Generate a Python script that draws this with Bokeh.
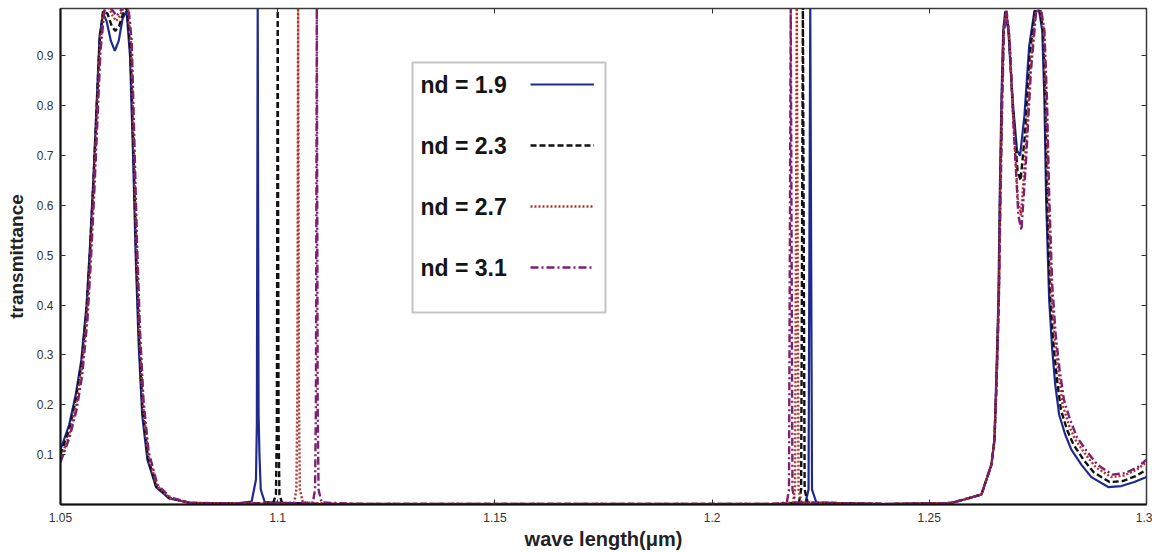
from bokeh.plotting import figure
from bokeh.models import (Range1d, LinearAxis, FixedTicker, Legend, LegendItem,
                          Label, BoxAnnotation)
from bokeh.core.properties import value
from bokeh.embed import file_html
from bokeh.resources import INLINE

# ---------------- data ----------------
x_ticks = [1.05, 1.1, 1.15, 1.2, 1.25, 1.3]
x_tick_labels = ["1.05", "1.1", "1.15", "1.2", "1.25", "1.3"]
y_ticks = [0.1, 0.2, 0.3, 0.4, 0.5, 0.6, 0.7, 0.8, 0.9]
y_tick_labels = ["0.1", "0.2", "0.3", "0.4", "0.5", "0.6", "0.7", "0.8", "0.9"]

series_names = ["nd = 1.9", "nd = 2.3", "nd = 2.7", "nd = 3.1"]

x_19 = [1.0500, 1.0520, 1.0535, 1.0548, 1.0560, 1.0568, 1.0576, 1.0583, 1.0590, 1.0598,
        1.0606, 1.0616, 1.0625, 1.0634, 1.0643, 1.0652, 1.0660, 1.0667, 1.0673, 1.0680,
        1.0688, 1.0700, 1.0720, 1.0750, 1.0800, 1.0900, 1.0940, 1.0950, 1.0952, 1.0954,
        1.0956, 1.0958, 1.0961, 1.0970, 1.1100, 1.2150, 1.2215, 1.2222, 1.2226, 1.2230,
        1.2240, 1.2400, 1.2550, 1.2580, 1.2620, 1.2643, 1.2650, 1.2654, 1.2659, 1.2662,
        1.2666, 1.2670, 1.2675, 1.2682, 1.2691, 1.2702, 1.2709, 1.2719, 1.2730, 1.2742,
        1.2753, 1.2760, 1.2765, 1.2769, 1.2776, 1.2783, 1.2790, 1.2799, 1.2813, 1.2827,
        1.2850, 1.2873, 1.2912, 1.2942, 1.2972, 1.3000]
y_19 = [0.11, 0.16, 0.22, 0.29, 0.40, 0.52, 0.66, 0.80, 0.94, 0.985,
        0.97, 0.93, 0.91, 0.93, 0.975, 0.99, 0.90, 0.70, 0.50, 0.32,
        0.18, 0.09, 0.035, 0.012, 0.003, 0.002, 0.006, 0.05, 0.16, 1.0,
        0.18, 0.10, 0.03, 0.005, 0.001, 0.001, 0.004, 0.03, 1.0, 0.03,
        0.004, 0.001, 0.003, 0.01, 0.02, 0.08, 0.13, 0.25, 0.41, 0.61,
        0.81, 0.95, 0.99, 0.95, 0.82, 0.71, 0.70, 0.78, 0.92, 0.99,
        0.99, 0.95, 0.81, 0.61, 0.41, 0.31, 0.24, 0.18, 0.14, 0.11,
        0.08, 0.055, 0.035, 0.037, 0.045, 0.055]

x_23 = [1.0500, 1.0520, 1.0535, 1.0548, 1.0560, 1.0568, 1.0576, 1.0583, 1.0590, 1.0598,
        1.0608, 1.0618, 1.0626, 1.0635, 1.0644, 1.0653, 1.0661, 1.0668, 1.0674, 1.0681,
        1.0689, 1.0701, 1.0720, 1.0750, 1.0800, 1.0950, 1.0990, 1.0996, 1.0998, 1.1000,
        1.1002, 1.1004, 1.1010, 1.1100, 1.2150, 1.2200, 1.2205, 1.2209, 1.2213, 1.2220,
        1.2400, 1.2550, 1.2580, 1.2620, 1.2643, 1.2650, 1.2655, 1.2660, 1.2663, 1.2667,
        1.2671, 1.2676, 1.2683, 1.2692, 1.2703, 1.2710, 1.2720, 1.2731, 1.2743, 1.2755,
        1.2762, 1.2767, 1.2771, 1.2778, 1.2786, 1.2794, 1.2803, 1.2817, 1.2832, 1.2855,
        1.2878, 1.2915, 1.2945, 1.2975, 1.3000]
y_23 = [0.10, 0.15, 0.21, 0.28, 0.39, 0.51, 0.65, 0.79, 0.93, 0.99,
        0.985, 0.96, 0.95, 0.96, 0.985, 0.995, 0.91, 0.71, 0.51, 0.33,
        0.19, 0.095, 0.037, 0.013, 0.003, 0.002, 0.004, 0.02, 0.15, 1.0,
        0.15, 0.02, 0.003, 0.001, 0.001, 0.004, 0.03, 1.0, 0.03, 0.004,
        0.001, 0.003, 0.01, 0.02, 0.08, 0.13, 0.25, 0.41, 0.61, 0.81,
        0.95, 0.99, 0.95, 0.80, 0.67, 0.65, 0.74, 0.90, 0.99, 0.99,
        0.95, 0.81, 0.61, 0.42, 0.32, 0.25, 0.19, 0.15, 0.12, 0.09,
        0.065, 0.045, 0.047, 0.057, 0.07]

x_27 = [1.0500, 1.0520, 1.0536, 1.0549, 1.0561, 1.0569, 1.0577, 1.0584, 1.0591, 1.0600,
        1.0610, 1.0620, 1.0628, 1.0637, 1.0646, 1.0655, 1.0663, 1.0669, 1.0675, 1.0682,
        1.0690, 1.0702, 1.0722, 1.0752, 1.0800, 1.1000, 1.1038, 1.1043, 1.1045, 1.1047,
        1.1049, 1.1051, 1.1058, 1.1150, 1.2150, 1.2186, 1.2191, 1.2195, 1.2199, 1.2206,
        1.2400, 1.2550, 1.2580, 1.2620, 1.2643, 1.2650, 1.2655, 1.2660, 1.2663, 1.2667,
        1.2671, 1.2677, 1.2684, 1.2693, 1.2704, 1.2711, 1.2721, 1.2733, 1.2745, 1.2757,
        1.2764, 1.2769, 1.2774, 1.2781, 1.2789, 1.2798, 1.2807, 1.2821, 1.2836, 1.2860,
        1.2883, 1.2918, 1.2948, 1.2978, 1.3000]
y_27 = [0.09, 0.14, 0.20, 0.27, 0.38, 0.50, 0.64, 0.78, 0.92, 0.99,
        1.0, 0.98, 0.97, 0.98, 1.0, 1.0, 0.92, 0.72, 0.52, 0.34,
        0.20, 0.10, 0.038, 0.013, 0.003, 0.002, 0.004, 0.03, 0.20, 1.0,
        0.20, 0.03, 0.004, 0.001, 0.001, 0.004, 0.03, 1.0, 0.03, 0.004,
        0.001, 0.003, 0.01, 0.02, 0.08, 0.13, 0.25, 0.41, 0.61, 0.81,
        0.95, 0.99, 0.94, 0.78, 0.61, 0.58, 0.70, 0.88, 0.99, 0.99,
        0.95, 0.81, 0.62, 0.43, 0.33, 0.26, 0.20, 0.16, 0.13, 0.10,
        0.075, 0.055, 0.058, 0.07, 0.085]

x_31 = [1.0500, 1.0521, 1.0537, 1.0550, 1.0562, 1.0570, 1.0578, 1.0585, 1.0592, 1.0601,
        1.0611, 1.0621, 1.0629, 1.0638, 1.0647, 1.0656, 1.0664, 1.0670, 1.0676, 1.0683,
        1.0691, 1.0703, 1.0723, 1.0753, 1.0800, 1.1040, 1.1081, 1.1086, 1.1088, 1.1090,
        1.1092, 1.1094, 1.1101, 1.1200, 1.2140, 1.2172, 1.2177, 1.2181, 1.2185, 1.2192,
        1.2400, 1.2550, 1.2580, 1.2620, 1.2643, 1.2650, 1.2655, 1.2660, 1.2664, 1.2668,
        1.2672, 1.2678, 1.2685, 1.2694, 1.2705, 1.2712, 1.2722, 1.2734, 1.2746, 1.2758,
        1.2765, 1.2771, 1.2776, 1.2783, 1.2791, 1.2800, 1.2810, 1.2824, 1.2840, 1.2864,
        1.2887, 1.2921, 1.2951, 1.2980, 1.3000]
y_31 = [0.085, 0.135, 0.19, 0.26, 0.37, 0.49, 0.63, 0.77, 0.91, 0.99,
        1.0, 0.99, 0.98, 0.99, 1.0, 1.0, 0.93, 0.73, 0.53, 0.35,
        0.21, 0.105, 0.04, 0.014, 0.003, 0.002, 0.004, 0.03, 0.20, 1.0,
        0.20, 0.03, 0.004, 0.001, 0.001, 0.004, 0.03, 1.0, 0.03, 0.004,
        0.001, 0.003, 0.01, 0.02, 0.08, 0.13, 0.25, 0.41, 0.61, 0.81,
        0.95, 0.99, 0.93, 0.76, 0.58, 0.55, 0.68, 0.87, 0.99, 0.99,
        0.95, 0.81, 0.62, 0.44, 0.34, 0.27, 0.21, 0.17, 0.135, 0.105,
        0.08, 0.06, 0.063, 0.075, 0.09]

# ---------------- figure ----------------
FONT = "Liberation Sans"
p = figure(width=1152, height=552, output_backend="svg", toolbar_location=None,
           x_range=Range1d(1.05, 1.3), y_range=Range1d(0.0, 0.995),
           min_border_left=60, min_border_right=6, min_border_top=8, min_border_bottom=47)
p.background_fill_color = "white"
p.border_fill_color = "white"
p.grid.visible = False
p.outline_line_color = "#3a3a3a"
p.outline_line_width = 1.5

for ax in (p.xaxis[0], p.yaxis[0]):
    ax.axis_line_color = "#111111"
    ax.axis_line_width = 2
    ax.major_tick_in = 5
    ax.major_tick_out = 0
    ax.major_tick_line_color = "#333333"
    ax.minor_tick_line_color = None
    ax.major_label_text_font = FONT
    ax.major_label_text_font_size = "12px"
    ax.major_label_text_color = "#333333"
    ax.axis_label_text_font = FONT
    ax.axis_label_text_font_style = "bold"
    ax.axis_label_text_color = "#222222"

p.xaxis[0].ticker = FixedTicker(ticks=x_ticks)
p.xaxis[0].major_label_overrides = dict(zip(x_ticks, x_tick_labels))
p.xaxis[0].axis_label = "wave length(μm)"
p.xaxis[0].axis_label_text_font_size = "20px"
p.xaxis[0].major_label_standoff = 8
p.xaxis[0].axis_label_standoff = 3

p.yaxis[0].ticker = FixedTicker(ticks=y_ticks)
p.yaxis[0].major_label_overrides = dict(zip(y_ticks, y_tick_labels))
p.yaxis[0].axis_label = "transmittance"
p.yaxis[0].axis_label_text_font_size = "19px"
p.yaxis[0].major_label_standoff = 7
p.yaxis[0].axis_label_standoff = 7

# box-style ticks on the top and right (no labels)
top_ax = LinearAxis(ticker=FixedTicker(ticks=x_ticks), major_tick_in=5, major_tick_out=0,
                    minor_tick_line_color=None, axis_line_color=None,
                    major_label_text_color=None, major_label_text_font_size="0px",
                    major_label_standoff=0, major_tick_line_color="#333333")
right_ax = LinearAxis(ticker=FixedTicker(ticks=y_ticks), major_tick_in=5, major_tick_out=0,
                      minor_tick_line_color=None, axis_line_color=None,
                      major_label_text_color=None, major_label_text_font_size="0px",
                      major_label_standoff=0, major_tick_line_color="#333333")
p.add_layout(top_ax, "above")
p.add_layout(right_ax, "right")

# ---------------- curves ----------------
r19 = p.line(x_19, y_19, line_color="#1f2a8f", line_width=2.2)
r23 = p.line(x_23, y_23, line_color="#111111", line_width=2.4, line_dash="6 3")
r27 = p.line(x_27, y_27, line_color="#b3342c", line_width=2.4, line_dash="2 2")
r31 = p.line(x_31, y_31, line_color="#7e1f70", line_width=2.4, line_dash="8 3 2 3")

# ---------------- legend ----------------
box = BoxAnnotation(left=352, right=545, bottom=192, top=442,
                    left_units="screen", right_units="screen",
                    bottom_units="screen", top_units="screen",
                    fill_color="white", fill_alpha=1.0,
                    line_color="#3a3a3a", line_width=2, level="overlay")
p.add_layout(box)

legend = Legend(items=[LegendItem(label=value(""), renderers=[r]) for r in (r19, r23, r27, r31)],
                location=(470, 227), orientation="vertical",
                glyph_width=64, glyph_height=20, label_width=0, label_height=20,
                label_standoff=0, spacing=41, padding=0, margin=0,
                border_line_color=None, background_fill_alpha=0.0,
                label_text_color=None, label_text_font_size="1px")
p.add_layout(legend)

for i, name in enumerate(series_names):
    p.add_layout(Label(x=360, y=420 - 61 * i, x_units="screen", y_units="screen",
                       text=name, text_font=FONT, text_font_style="bold",
                       text_font_size="23px", text_color="#151515",
                       text_baseline="middle", level="overlay"))

open("out.html", "w").write(file_html(p, INLINE))
